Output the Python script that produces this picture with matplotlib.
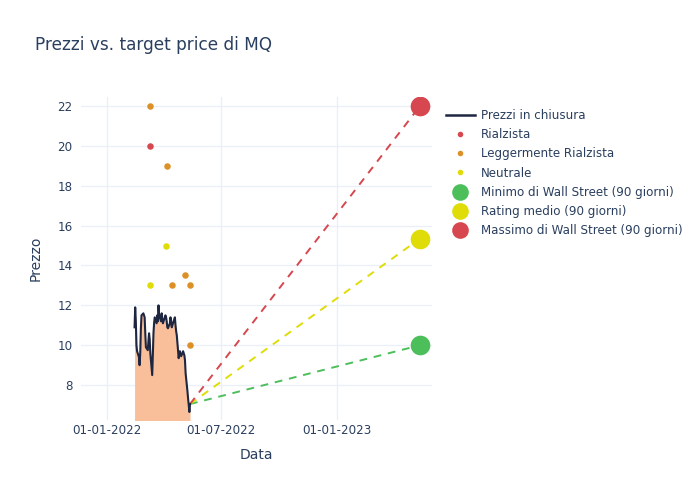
import matplotlib
matplotlib.use("Agg")
import matplotlib.pyplot as plt
import matplotlib.dates as mdates
from matplotlib.lines import Line2D
import pandas as pd

# Closing prices (business days 14-02-2022 .. 13-05-2022)
price_dates = pd.bdate_range("2022-02-14", "2022-05-13")
prices = [
    10.9, 11.9, 11.2, 10.0, 9.7, 9.4, 9.0, 9.6, 10.8, 11.5, 11.6,
    11.5, 11.4, 10.6, 9.9, 9.75, 10.2, 10.6, 10.3, 9.6, 8.5, 9.5, 10.6,
    11.1, 11.4, 11.1, 11.5, 11.2, 12.0, 11.5, 11.2, 11.6, 11.3, 11.1,
    11.2, 11.5, 11.4, 11.2, 10.9, 10.85, 11.1, 11.4, 11.2, 10.9, 11.0,
    11.3, 11.4, 11.0, 10.7, 10.5, 9.35, 9.6, 9.7, 9.5, 9.45,
    9.7, 9.6, 9.5, 9.25, 8.6, 7.67, 7.3, 7.0, 6.65, 7.05,
]
assert len(prices) == len(price_dates)

# Analyst targets
bull_dates = ["2022-03-10"]
bull_vals = [20]
slight_dates = ["2022-03-10", "2022-04-06", "2022-04-14", "2022-05-05", "2022-05-13", "2022-05-13"]
slight_vals = [22, 19, 13, 13.5, 13, 10]
neutral_dates = ["2022-03-10", "2022-04-05"]
neutral_vals = [13, 15]

# Wall Street targets (90 days)
target_date = "2023-05-13"
target_low = 10.0
target_avg = 15.35
target_high = 22.0

text_col = "#2a3f5f"
grid_col = "#ebf0f8"
red = "#d6474f"
orange = "#dc9127"
yellow = "#dfdc07"
green = "#4cbf5b"

fig = plt.figure(figsize=(7, 5), dpi=100)
ax = fig.add_axes([81 / 700, 80 / 500, 351 / 700, 323 / 500])

pd_dates = pd.to_datetime(price_dates)
ax.fill_between(pd_dates, prices, 0, color="#f9bf9b", lw=0, zorder=1)
ax.plot(pd_dates, prices, color="#1f2740", lw=1.5, zorder=3)

last_date = pd_dates[-1]
last_price = prices[-1]
td = pd.to_datetime(target_date)
for val, col in [(target_low, green), (target_avg, yellow), (target_high, red)]:
    ax.plot([last_date, td], [last_price, val], color=col, lw=1.4,
            ls=(0, (4, 3.5)), zorder=2)

ax.scatter(pd.to_datetime(bull_dates), bull_vals, s=22, color=red, zorder=4, lw=0)
ax.scatter(pd.to_datetime(slight_dates), slight_vals, s=22, color=orange, zorder=4, lw=0)
ax.scatter(pd.to_datetime(neutral_dates), neutral_vals, s=22, color=yellow, zorder=4, lw=0)

ax.scatter([td], [target_low], s=200, color=green, zorder=5, lw=0)
ax.scatter([td], [target_avg], s=200, color=yellow, zorder=5, lw=0)
ax.scatter([td], [target_high], s=200, color=red, zorder=5, lw=0)

ax.set_xlim(pd.Timestamp("2021-11-21"), pd.Timestamp("2023-06-01"))
ax.set_ylim(6.25, 22.45)
ax.set_yticks([8, 10, 12, 14, 16, 18, 20, 22])
ax.set_xticks(pd.to_datetime(["2022-01-01", "2022-07-01", "2023-01-01"]))
ax.xaxis.set_major_formatter(mdates.DateFormatter("%d-%m-%Y"))
ax.grid(True, color=grid_col, lw=1)
ax.set_axisbelow(True)
for s in ax.spines.values():
    s.set_visible(False)
ax.tick_params(axis="x", length=0, labelsize=8.6, colors=text_col, pad=3)
ax.tick_params(axis="y", length=0, labelsize=8.6, colors=text_col, pad=6)

ax.set_xlabel("Data", fontsize=10, color=text_col, labelpad=8)
ax.set_ylabel("Prezzo", fontsize=10, color=text_col, labelpad=11)
fig.text(35 / 700, 1 - 45 / 500, "Prezzi vs. target price di MQ", fontsize=12.2,
         color=text_col, va="center", ha="left")

handles = [
    Line2D([], [], color="#1f2740", lw=1.8),
    Line2D([], [], color=red, marker="o", ls="", markersize=4, markeredgewidth=0),
    Line2D([], [], color=orange, marker="o", ls="", markersize=4, markeredgewidth=0),
    Line2D([], [], color=yellow, marker="o", ls="", markersize=4, markeredgewidth=0),
    Line2D([], [], color=green, marker="o", ls="", markersize=12, markeredgewidth=0),
    Line2D([], [], color=yellow, marker="o", ls="", markersize=12, markeredgewidth=0),
    Line2D([], [], color=red, marker="o", ls="", markersize=12, markeredgewidth=0),
]
labels = [
    "Prezzi in chiusura", "Rialzista", "Leggermente Rialzista", "Neutrale",
    "Minimo di Wall Street (90 giorni)", "Rating medio (90 giorni)",
    "Massimo di Wall Street (90 giorni)",
]
leg = fig.legend(handles, labels, loc="upper left",
                 bbox_to_anchor=(446 / 700, 1 - 109 / 500), frameon=False,
                 fontsize=8.6, labelspacing=0.52, handlelength=2.4,
                 handletextpad=0.5, borderaxespad=0, borderpad=0)
for t in leg.get_texts():
    t.set_color(text_col)

fig.savefig("out.png", dpi=100)
